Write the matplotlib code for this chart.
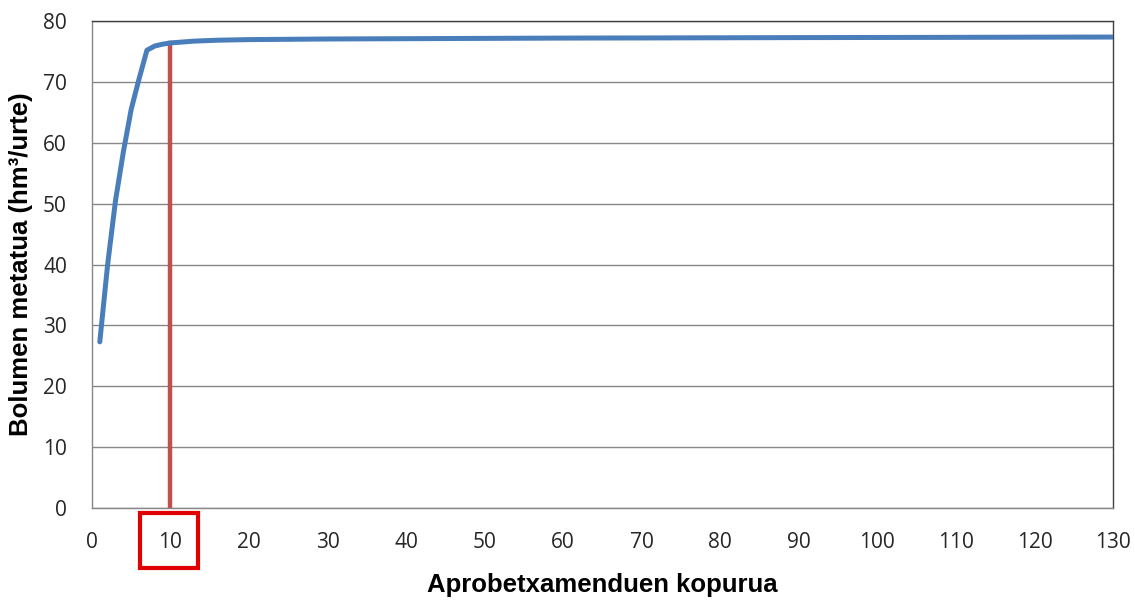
import matplotlib
matplotlib.use("Agg")
import matplotlib.pyplot as plt
from matplotlib.patches import Rectangle

# Data
x_vals = [1, 2, 3, 4, 5, 6, 7, 8, 9, 10, 11, 12, 13, 14, 15, 16, 18, 20, 25, 30,
          40, 50, 60, 70, 80, 90, 100, 110, 120, 130]
y_vals = [27.3, 40.0, 50.5, 58.5, 65.5, 70.5, 75.2, 75.9, 76.2, 76.4, 76.5, 76.6, 76.7,
          76.75, 76.8, 76.85, 76.9, 76.95, 77.0, 77.05, 77.1, 77.15, 77.2, 77.22, 77.25,
          77.28, 77.3, 77.32, 77.35, 77.37]
marker_x = 10
marker_y = 76.4
x_ticks = list(range(0, 131, 10))
y_ticks = list(range(0, 81, 10))
x_label = "Aprobetxamenduen kopurua"
y_label = "Bolumen metatua (hm³/urte)"

fig = plt.figure(figsize=(11.35, 6.01), dpi=100)
ax = fig.add_axes([0.081, 0.1547, 0.8996, 0.8103])

ax.set_xlim(0, 130)
ax.set_ylim(0, 80)
ax.set_xticks(x_ticks)
ax.set_yticks(y_ticks)

ax.grid(axis="y", color="#878787", linewidth=1.0)
ax.set_axisbelow(True)

ax.plot([marker_x, marker_x], [0, marker_y], color="#c0504d", linewidth=3.2, zorder=2)
ax.plot(x_vals, y_vals, color="#4a7ebb", linewidth=3.6, zorder=3, solid_capstyle="round")

for s in ["left", "bottom"]:
    ax.spines[s].set_color("#878787")
for s in ["top", "right"]:
    ax.spines[s].set_color("#404040")
for s in ax.spines.values():
    s.set_linewidth(1.0)

ax.tick_params(axis="x", length=0, pad=17, labelsize=15, labelcolor="#262626")
ax.tick_params(axis="y", length=0, pad=18, labelsize=15, labelcolor="#262626")
for lab in ax.get_xticklabels() + ax.get_yticklabels():
    lab.set_family("Open Sans")

ax.set_xlabel(x_label, fontsize=18.5, fontweight="bold", family="Liberation Sans", labelpad=15)
ax.set_ylabel(y_label, fontsize=18.5, fontweight="bold", family="Liberation Sans", labelpad=7)

# red box highlighting tick 10
rect = Rectangle((6.1, -9.85), 7.4, 9.05, fill=False, edgecolor="#e00000",
                 linewidth=3.0, clip_on=False, zorder=5)
ax.add_patch(rect)

fig.savefig("out.png", dpi=100)
